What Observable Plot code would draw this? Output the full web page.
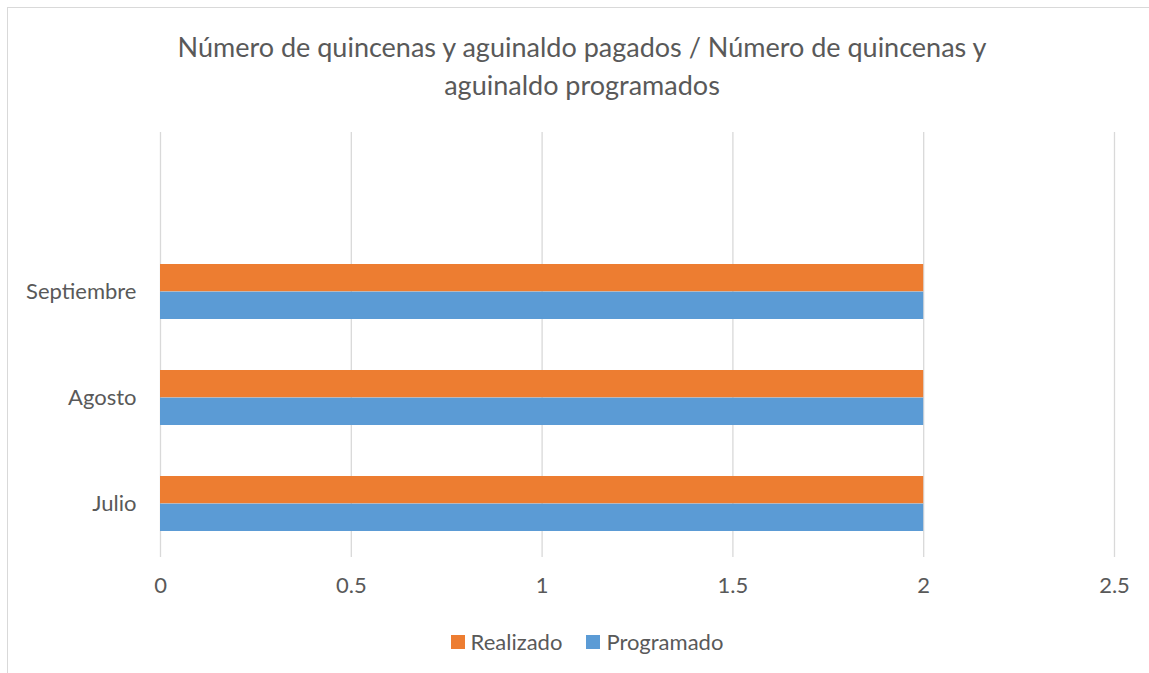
<!DOCTYPE html>
<html>
<head>
<meta charset="utf-8">
<script src="https://cdn.jsdelivr.net/npm/d3@7"></script>
<script src="https://cdn.jsdelivr.net/npm/@observablehq/plot@0.6"></script>
<style>
  body { margin: 0; background: #fff; }
  #wrap { position: relative; width: 1149px; height: 673px; overflow: hidden; background: #fff; font-family: Lato, "Open Sans", sans-serif; color: #595959; }
  #frame { position: absolute; left: 7px; top: 7px; width: 1400px; height: 1000px; border: 1.5px solid #d9d9d9; box-sizing: border-box; }
  #title { position: absolute; left: 7px; width: 1150px; top: 28px; text-align: center; font-size: 27px; line-height: 38px; }
  #chart { position: absolute; left: 0; top: 0; }
  #legend { position: absolute; left: 7px; width: 1160px; top: 628px; text-align: center; font-size: 22px; line-height: 26px; }
  .item { display: inline-flex; align-items: center; margin: 0 12px; }
  .sw { display: inline-block; width: 14px; height: 14px; margin-right: 6px; }
</style>
</head>
<body>
<div id="wrap">
  <div id="frame"></div>
  <div id="chart"></div>
  <div id="title">Número de quincenas y aguinaldo pagados / Número de quincenas y<br>aguinaldo programados</div>
  <div id="legend"></div>
</div>
<script>
const months = ["Julio", "Agosto", "Septiembre"];
const series = ["Realizado", "Programado"];
const realizado = [2, 2, 2];
const programado = [2, 2, 2];
const xTicks = [0, 0.5, 1, 1.5, 2, 2.5];
const colors = ["#ED7D31", "#5B9BD5"];

const data = months.map((m, i) => ({month: m, Realizado: realizado[i], Programado: programado[i]}));

const chart = Plot.plot({
  width: 1149,
  height: 673,
  marginTop: 132,
  marginBottom: 116,
  marginLeft: 160,
  marginRight: 35,
  style: {fontFamily: "Lato, 'Open Sans', sans-serif", fontSize: "22px", color: "#595959", background: "transparent"},
  x: {domain: [0, 2.5], label: null},
  y: {domain: months.slice().reverse(), insetTop: 106, paddingInner: 0.48, paddingOuter: 0.24, label: null},
  marks: [
    Plot.gridX(xTicks, {stroke: "#d9d9d9", strokeOpacity: 1, strokeWidth: 1.3}),
    Plot.barX(data, {x: series[0], y: "month", fill: colors[0], insetBottom: 27.6}),
    Plot.barX(data, {x: series[1], y: "month", fill: colors[1], insetTop: 27.6}),
    Plot.axisX(xTicks, {tickSize: 0, tickPadding: 20, tickFormat: d => String(d), fill: "#595959", label: null}),
    Plot.axisY({tickSize: 0, tickPadding: 24, fill: "#595959", label: null})
  ]
});
document.getElementById("chart").appendChild(chart);

const legend = document.getElementById("legend");
series.forEach((s, i) => {
  const item = document.createElement("span");
  item.className = "item";
  const sw = document.createElement("span");
  sw.className = "sw";
  sw.style.background = colors[i];
  item.appendChild(sw);
  item.appendChild(document.createTextNode(s));
  legend.appendChild(item);
});
</script>
</body>
</html>
